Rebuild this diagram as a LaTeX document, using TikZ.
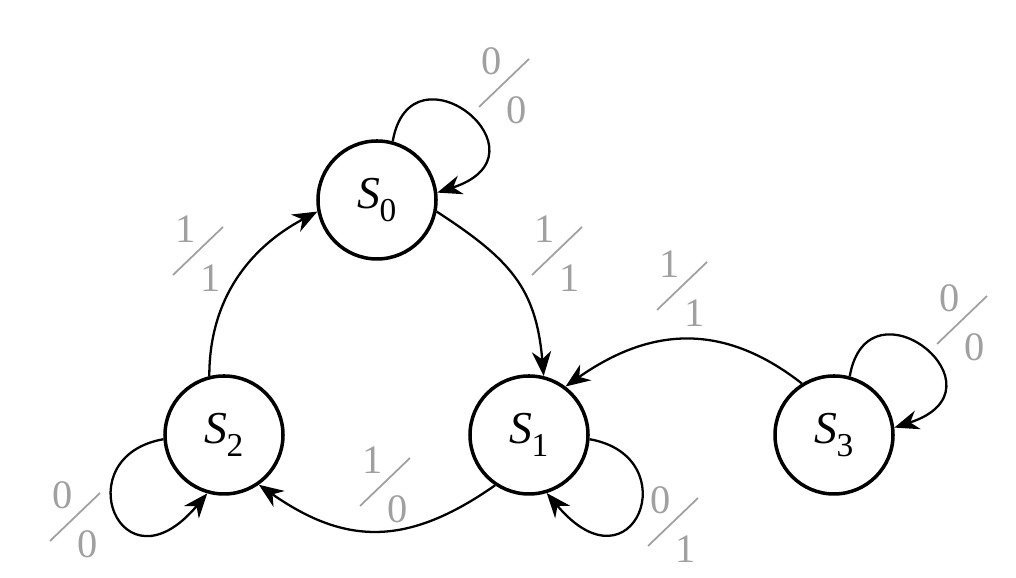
\documentclass[tikz,border=0pt]{standalone}
\usepackage{fontspec}
\setmainfont{Liberation Serif}
\usetikzlibrary{arrows.meta}
\definecolor{labgray}{RGB}{160,160,160}
\newcommand{\stname}[1]{\textit{S}\kern-0.02em\raisebox{-0.3em}{\fontsize{19}{19}\selectfont #1}}
\newcommand{\iolab}[4]{% name, position, input, output
  \begin{scope}[shift={(#2)}]
  \draw[slash] (-0.5,-0.48) -- (0.5,0.48);
  \node (#1in) at (-0.24,0.44)[digit] {#3};
  \node (#1out) at (0.26,-0.54)[digit] {#4};
  \end{scope}}
\begin{document}
\begin{tikzpicture}
[>={Stealth[length=14pt,width=11pt,inset=4.5pt]},
 state/.style = {draw, circle, line width=2pt, minimum size=2.36cm, inner sep=0pt, font=\fontsize{26}{26}\selectfont},
 edge/.style = {->, line width=1.3pt},
 digit/.style = {text=labgray, inner sep=0pt, font=\fontsize{23}{23}\selectfont},
 slash/.style = {draw=labgray, line width=1pt},]
\useasboundingbox (0,0) rectangle (20.32,11.56);
\node (S0) at (7.54,7.56)[state] {\stname{0}};
\node (S1) at (10.58,2.86)[state] {\stname{1}};
\node (S2) at (4.48,2.86)[state] {\stname{2}};
\node (S3) at (16.68,2.86)[state] {\stname{3}};
\draw[edge] (S2.104) to[out=90,in=208] (S0.191);
\draw[edge] (S0.-11) to[out=-33,in=95,looseness=1.15] (S1.76);
\draw[edge] (S3.122) to[out=142,in=35,looseness=1.1] (S1.53);
\draw[edge] (S1.-124) to[out=215,in=-35,looseness=1.15] (S2.-55);
\draw[edge] (S0.75) .. controls +(80:2.1) and +(18:2.5) .. (S0.7);
\draw[edge] (S1.-4) .. controls +(-10:2.0) and +(-50:2.7) .. (S1.-73);
\draw[edge] (S2.184) .. controls +(190:2.0) and +(-130:2.7) .. (S2.254);
\draw[edge] (S3.75) .. controls +(80:2.1) and +(18:2.5) .. (S3.7);
\iolab{L0}{10.08,9.90}{0}{0}
\iolab{L20}{3.96,6.54}{1}{1}
\iolab{L01}{11.14,6.54}{1}{1}
\iolab{L31}{13.64,5.84}{1}{1}
\iolab{L3}{19.24,5.16}{0}{0}
\iolab{L12}{7.70,1.92}{1}{0}
\iolab{L1}{13.46,1.12}{0}{1}
\iolab{L2}{1.50,1.22}{0}{0}
\end{tikzpicture}
\end{document}
